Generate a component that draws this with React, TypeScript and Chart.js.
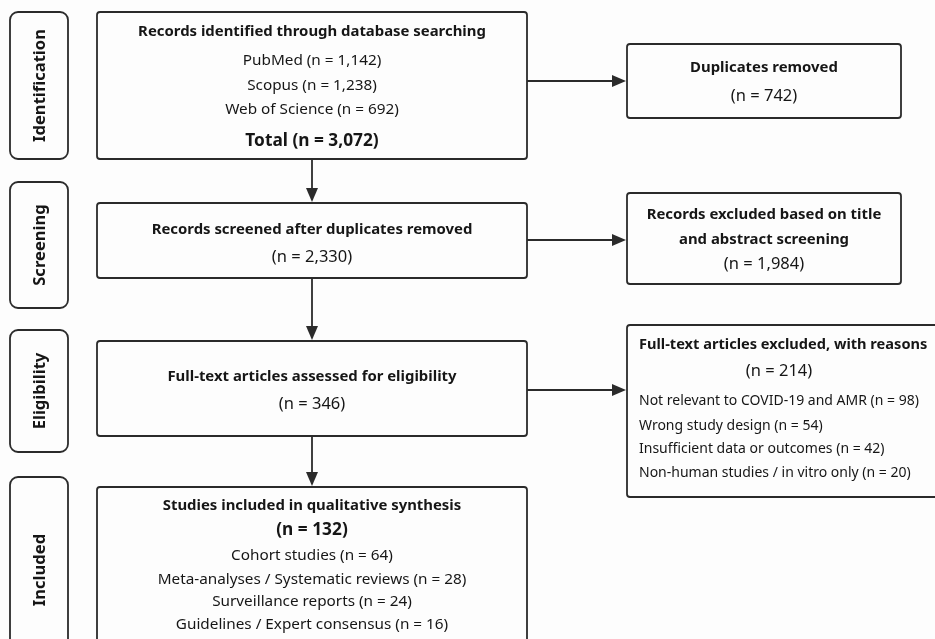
import React, { useEffect, useRef } from "react";
import { Chart, registerables } from "chart.js";

Chart.register(...registerables);

// ---------- DATA ----------
const stageLabels = ["Identification", "Screening", "Eligibility", "Included"];
const sourceNames = ["PubMed", "Scopus", "Web of Science"];
const sourceCounts = [1142, 1238, 692];
const totalIdentified = 3072;
const duplicatesRemoved = 742;
const screenedCount = 2330;
const excludedTitleAbstract = 1984;
const fullTextAssessed = 346;
const fullTextExcluded = 214;
const exclusionReasons = [
  "Not relevant to COVID-19 and AMR",
  "Wrong study design",
  "Insufficient data or outcomes",
  "Non-human studies / in vitro only",
];
const exclusionCounts = [98, 54, 42, 20];
const includedCount = 132;
const studyTypes = [
  "Cohort studies",
  "Meta-analyses / Systematic reviews",
  "Surveillance reports",
  "Guidelines / Expert consensus",
];
const studyTypeCounts = [64, 28, 24, 16];

// ---------- LAYOUT (diagram units, mapped through the chart scales) ----------
const W = 935;
const H = 639;
const SIDE_X = [10, 68];
const SIDE_SPANS = [
  [12, 159],
  [182, 308],
  [330, 452],
  [477, 700],
];
const MAIN_X = [97, 527];
const MAIN_SPANS = [
  [12, 159],
  [203, 278],
  [341, 436],
  [487, 700],
];
const RIGHT_BOXES = [
  { x0: 627, x1: 901, y0: 44, y1: 118 },
  { x0: 627, x1: 901, y0: 193, y1: 284 },
  { x0: 627, x1: 970, y0: 325, y1: 497 },
];
const H_ARROW_Y = [81, 240, 390];
const FONT = "'Noto Sans', 'Open Sans', sans-serif";
const INK = "#161616";
const LINE = "#2b2b2b";
const SIZES = { title: 14.9, n: 16.5, item: 15.3, reason: 14, big: 17.3, side: 16.6 };
const TEXT_DY = 1.5;

const fmt = (n: number) => n.toLocaleString("en-US");
const nLabel = (n: number) => `(n = ${fmt(n)})`;

type TextLine = { t: string; y: number; bold?: boolean; size: number; align?: "left" | "center"; x: number };

function buildTexts(): TextLine[][] {
  const mainCx = (MAIN_X[0] + MAIN_X[1]) / 2;
  const box1: TextLine[] = [
    { t: "Records identified through database searching", y: 30, bold: true, size: SIZES.title, x: mainCx },
    ...sourceNames.map((s, i) => ({ t: `${s} ${nLabel(sourceCounts[i])}`, y: [59, 84, 108][i], size: SIZES.item, x: mainCx })),
    { t: `Total ${nLabel(totalIdentified)}`, y: 140, bold: true, size: SIZES.big, x: mainCx },
  ];
  const box2: TextLine[] = [
    { t: "Records screened after duplicates removed", y: 228, bold: true, size: SIZES.title, x: mainCx },
    { t: nLabel(screenedCount), y: 256, size: SIZES.n, x: mainCx },
  ];
  const box3: TextLine[] = [
    { t: "Full-text articles assessed for eligibility", y: 375, bold: true, size: SIZES.title, x: mainCx },
    { t: nLabel(fullTextAssessed), y: 403, size: SIZES.n, x: mainCx },
  ];
  const box4: TextLine[] = [
    { t: "Studies included in qualitative synthesis", y: 504, bold: true, size: SIZES.title, x: mainCx },
    { t: nLabel(includedCount), y: 529, bold: true, size: SIZES.big, x: mainCx },
    ...studyTypes.map((s, i) => ({
      t: `${s} ${nLabel(studyTypeCounts[i])}`,
      y: [554, 578, 600, 623][i],
      size: SIZES.item,
      x: mainCx,
    })),
  ];
  const rCx = (RIGHT_BOXES[0].x0 + RIGHT_BOXES[0].x1) / 2;
  const r1: TextLine[] = [
    { t: "Duplicates removed", y: 66, bold: true, size: SIZES.title, x: rCx },
    { t: nLabel(duplicatesRemoved), y: 95, size: SIZES.n, x: rCx },
  ];
  const r2: TextLine[] = [
    { t: "Records excluded based on title", y: 213, bold: true, size: SIZES.title, x: rCx },
    { t: "and abstract screening", y: 238, bold: true, size: SIZES.title, x: rCx },
    { t: nLabel(excludedTitleAbstract), y: 263, size: SIZES.n, x: rCx },
  ];
  const r3: TextLine[] = [
    { t: "Full-text articles excluded, with reasons", y: 343, bold: true, size: 14.6, align: "left", x: 639 },
    { t: nLabel(fullTextExcluded), y: 370, size: SIZES.n, x: 779 },
    ...exclusionReasons.map((s, i) => ({
      t: `${s} ${nLabel(exclusionCounts[i])}`,
      y: [400, 425, 448, 472][i],
      size: SIZES.reason,
      align: "left" as const,
      x: 639,
    })),
  ];
  return [box1, box2, box3, box4, r1, r2, r3];
}

const flowPlugin = {
  id: "prismaFlow",
  beforeDraw(chart: any) {
    const { ctx } = chart;
    ctx.save();
    ctx.fillStyle = "#fdfdfd";
    ctx.fillRect(0, 0, chart.width, chart.height);
    ctx.restore();
  },
  afterDraw(chart: any) {
    const { ctx } = chart;
    const sx = chart.scales.x;
    const sy = chart.scales.y;
    const px = (v: number) => sx.getPixelForValue(v);
    const py = (v: number) => sy.getPixelForValue(v);

    const rect = (x0: number, y0: number, x1: number, y1: number, r: number) => {
      ctx.beginPath();
      ctx.roundRect(px(x0), py(y0), px(x1) - px(x0), py(y1) - py(y0), r);
      ctx.stroke();
    };
    const arrowHead = (x: number, y: number, dir: "down" | "right") => {
      const L = 14, Hw = 6;
      ctx.beginPath();
      if (dir === "down") {
        ctx.moveTo(px(x), py(y));
        ctx.lineTo(px(x) - Hw, py(y) - L);
        ctx.lineTo(px(x) + Hw, py(y) - L);
      } else {
        ctx.moveTo(px(x), py(y));
        ctx.lineTo(px(x) - L, py(y) - Hw);
        ctx.lineTo(px(x) - L, py(y) + Hw);
      }
      ctx.closePath();
      ctx.fill();
    };

    ctx.save();
    ctx.strokeStyle = LINE;
    ctx.fillStyle = LINE;
    ctx.lineWidth = 1.8;

    // stage side labels
    SIDE_SPANS.forEach((s, i) => {
      rect(SIDE_X[0], s[0], SIDE_X[1], s[1], 8);
      ctx.save();
      const cx = px((SIDE_X[0] + SIDE_X[1]) / 2);
      const cyUse = i === 3 ? py(570) : py((s[0] + s[1]) / 2);
      ctx.translate(cx, cyUse);
      ctx.rotate(-Math.PI / 2);
      ctx.fillStyle = INK;
      ctx.font = `bold ${SIZES.side}px ${FONT}`;
      ctx.textAlign = "center";
      ctx.textBaseline = "middle";
      ctx.fillText(stageLabels[i], 0, 1);
      ctx.restore();
    });

    // boxes
    MAIN_SPANS.forEach((s) => rect(MAIN_X[0], s[0], MAIN_X[1], s[1], 3));
    RIGHT_BOXES.forEach((b) => rect(b.x0, b.y0, b.x1, b.y1, 3));

    // vertical arrows
    const mainCx = (MAIN_X[0] + MAIN_X[1]) / 2;
    for (let i = 0; i < MAIN_SPANS.length - 1; i++) {
      const y0 = MAIN_SPANS[i][1];
      const y1 = MAIN_SPANS[i + 1][0];
      ctx.beginPath();
      ctx.moveTo(px(mainCx), py(y0));
      ctx.lineTo(px(mainCx), py(y1) - 10);
      ctx.stroke();
      arrowHead(mainCx, y1 - 1, "down");
    }
    // horizontal arrows
    H_ARROW_Y.forEach((y, i) => {
      const xEnd = RIGHT_BOXES[i].x0;
      ctx.beginPath();
      ctx.moveTo(px(MAIN_X[1]), py(y));
      ctx.lineTo(px(xEnd) - 10, py(y));
      ctx.stroke();
      arrowHead(xEnd - 1, y, "right");
    });

    // texts
    ctx.fillStyle = INK;
    ctx.textBaseline = "middle";
    buildTexts().forEach((lines) =>
      lines.forEach((l) => {
        ctx.font = `${l.bold ? "bold " : ""}${l.size}px ${FONT}`;
        ctx.textAlign = l.align ?? "center";
        ctx.fillText(l.t, px(l.x), py(l.y) + TEXT_DY);
      })
    );
    ctx.restore();
  },
};

export default function App() {
  const ref = useRef<HTMLCanvasElement | null>(null);
  useEffect(() => {
    document.body.style.margin = "0";
    if (!ref.current) return;
    const chart = new Chart(ref.current, {
      type: "scatter",
      data: { datasets: [{ data: [], pointRadius: 0 }] },
      options: {
        animation: false,
        responsive: true,
        maintainAspectRatio: false,
        layout: { padding: 0 },
        events: [],
        scales: {
          x: { type: "linear", min: 0, max: W, display: false },
          y: { type: "linear", min: 0, max: H, reverse: true, display: false },
        },
        plugins: { legend: { display: false }, tooltip: { enabled: false } },
      },
      plugins: [flowPlugin],
    });
    return () => chart.destroy();
  }, []);
  return (
    <div style={{ width: W, height: H, position: "relative" }}>
      <canvas ref={ref} />
    </div>
  );
}
